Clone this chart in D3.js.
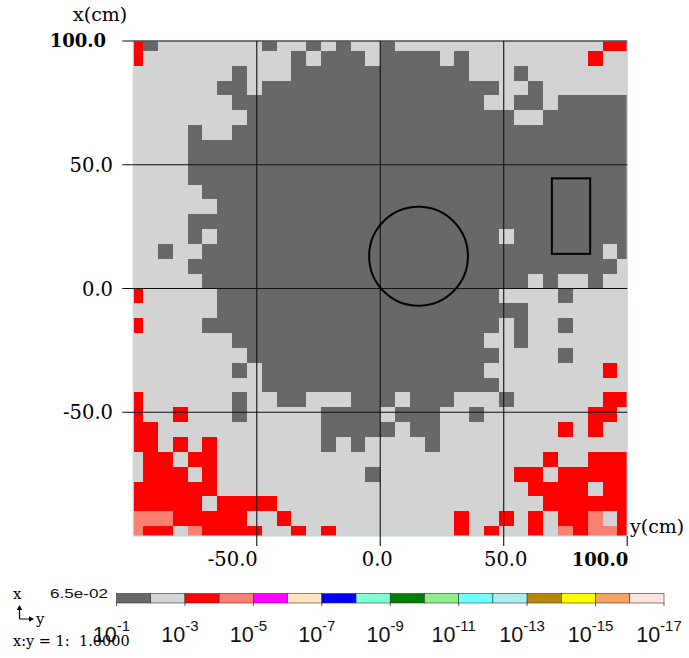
<!DOCTYPE html>
<html><head><meta charset="utf-8">
<script src="https://cdn.jsdelivr.net/npm/d3@7"></script>
<style>body{margin:0;background:#fff}svg{display:block}</style>
</head><body>
<script>
// ---------- data ----------
// cell edges (cm) along both axes
const cellEdges = [-102,-96,-90,-84,-78,-72,-66,-60,-54,-48,-42,-36,-30,-24,-18,-12,-6,0,6,12,18,24,30,36,42,48,54,60,66,72,78,84,90,96,102];
// mesh rows from top (x = 96..102) to bottom (x = -102..-96); each row = left half (y<0) + right half (y>0)
// D: ~3e-2, L: ~3e-3, R: ~3e-4, S: ~3e-5
const meshLeft = [
"RDLLLLLLLDLLDLDLL","RLLLLLLLLLLDLDDDL","LLLLLLLDLLLDDDDDD","LLLLLLDDLDDDDDDDD",
"LLLLLLLDDDDDDDDDD","LLLLLLLLDDDDDDDDD","LLLLDLLDDDDDDDDDD","LLLLDDDDDDDDDDDDD",
"LLLLDDDDDDDDDDDDD","LLLLDDDDDDDDDDDDD","LLLLLDDDDDDDDDDDD","LLLLLLDDDDDDDDDDD",
"LLLLDDDDDDDDDDDDD","LLLLDLDDDDDDDDDDD","LLDLLDDDDDDDDDDDD","LLLLDDDDDDDDDDDDD",
"LLLLLDDDDDDDDDDDD","RLLLLLDDDDDDDDDDD","LLLLLLDDDDDDDDDDD","RLLLLDDDDDDDDDDDD",
"LLLLLLLDDDDDDDDDD","LLLLLLLLDDDDDDDDD","LLLLLLLDLDDDDDDDD","LLLLLLLLLDDDDDDDD",
"RLLLLLLDLLDDLLLDD","RLLRLLLDLLLLLDDDD","RRLLLLLLLLLLLDDDD","RRLRLRLLLLLLLDLDL",
"LRRLRRLLLLLLLLLLL","LRRRLRLLLLLLLLLLD","RRRRRRLLLLLLLLLLL","RRRRRLRRRRLLLLLLL",
"SSSRRRRRLLRLLLLLL","SRRLSRRRRLLRLRLLL"
];
const meshRight = [
"DLLLLLLLLLLLLLLRR","DDDDLDLLLLLLLLRLL","DDDDDDLLLDLLLLLLL","DDDDDDDDLLDLLLLLL",
"DDDDDDDLLDDLDDDDD","DDDDDDDDDLLDDDDDD","DDDDDDDDDDDDDDDDD","DDDDDDDDDDDDDDDDD",
"DDDDDDDDDDDDDDDDD","DDDDDDDDDDDDDDDDD","DDDDDDDDDDDDDDDDD","DDDDDDDDDDDDDDDDD",
"DDDDDDDDDDDDDDDDD","DDDDDDDDLDDDDDDDD","DDDDDDDDDDDDDDDLD","DDDDDDDDDDDDDDDDL",
"DDDDDDDDDDLDLLDLL","DDDDDDDDLLLLDLLLL","DDDDDDDDDDLLLLLLL","DDDDDDDDLDLLDLLLL",
"DDDDDDDLLDLLLLLLL","DDDDDDDDLLLLDLLLL","DDDDDDDLLLLLLLLRL","DDDDDDDDLLLLLLLLL",
"DLDDDLLLDLLLLLLRR","LDDDLLDLLLLLLLRRL","DLDDLLLLLLLLRLRLL","LLLDLLLLLLLLLLLLL",
"LLLLLLLLLLLRLLRRR","LLLLLLLLLRRLRRRRR","LLLLLLLLLLRRRRLRR","LLLLLLLLLLLRRRRRR",
"LLLLLRLLRLRLRRSLR","LLLLLRLRLLRLSRSSR"
];
const levelValues = {D: 3e-2, L: 3e-3, R: 3e-4, S: 3e-5};
// colour bar decades and colours
const decades = [1e-1,1e-2,1e-3,1e-4,1e-5,1e-6,1e-7,1e-8,1e-9,1e-10,1e-11,1e-12,1e-13,1e-14,1e-15,1e-16,1e-17];
const barColors = ["#686868","#d3d3d3","#ff0000","#fa8072","#ff00ff","#ffe4c4","#0000ff","#7fffd4",
                   "#008000","#90ee90","#70ffff","#afeeee","#b8860b","#ffff00","#f4a460","#ffe4e1"];
const barLabelExp = ["-1","-3","-5","-7","-9","-11","-13","-15","-17"];
const axisTicks = [-50, 0, 50, 100];
const axisTickLabels = ["-50.0","0.0","50.0","100.0"];
const maxValueText = "6.5e-02";
// geometry overlays (cm): circle and rectangle
const circleShape = {y: 15.5, x: 13, r: 20};
const rectShape = {y0: 69.5, y1: 85, x0: 14, x1: 44.5};

// ---------- drawing ----------
const W = 689, H = 658;
const svg = d3.select("body").append("svg").attr("width", W).attr("height", H);
const sx = d3.scaleLinear().domain([-100, 100]).range([133.3, 627.2]);
const sy = d3.scaleLinear().domain([-100, 100]).range([536, 41]);
const color = d3.scaleThreshold()
  .domain(decades.slice(1, 16).slice().reverse())
  .range(barColors.slice().reverse());

svg.append("defs").append("clipPath").attr("id","pc").append("rect")
  .attr("x", sx(-100)).attr("y", sy(100)).attr("width", sx(100)-sx(-100)).attr("height", sy(-100)-sy(100));

const cells = [];
meshLeft.forEach((lh, r) => {
  const row = (lh + meshRight[r]);
  const xTop = cellEdges[cellEdges.length - 1 - r];
  const xBot = cellEdges[cellEdges.length - 2 - r];
  for (let c = 0; c < cellEdges.length - 1; c++) {
    const v = levelValues[row[c]];
    if (v === undefined) continue;
    cells.push({y0: cellEdges[c], y1: cellEdges[c+1], x0: xBot, x1: xTop, v: v});
  }
});
svg.append("g").attr("clip-path","url(#pc)").selectAll("rect").data(cells).join("rect")
  .attr("x", d => sx(d.y0)).attr("y", d => sy(d.x1))
  .attr("width", d => sx(d.y1) - sx(d.y0) + 0.3).attr("height", d => sy(d.x0) - sy(d.x1) + 0.3)
  .attr("fill", d => color(d.v)).attr("shape-rendering","crispEdges");

// frame
svg.append("rect").attr("x", sx(-100)).attr("y", sy(100)).attr("width", sx(100)-sx(-100)).attr("height", sy(-100)-sy(100))
  .attr("fill","none").attr("stroke","#b9dbe8").attr("stroke-width",1.2);

// grid lines with outward ticks
const g = svg.append("g").attr("stroke","#111").attr("stroke-width",1.1);
axisTicks.forEach(t => {
  g.append("line").attr("x1", sx(-100) - 11).attr("x2", sx(100)).attr("y1", sy(t)).attr("y2", sy(t));
  if (t === 100) g.append("line").attr("x1", sx(t)).attr("x2", sx(t)).attr("y1", sy(-100)).attr("y2", sy(-100) + 10);
  else g.append("line").attr("x1", sx(t)).attr("x2", sx(t)).attr("y1", sy(100)).attr("y2", sy(-100) + 10);
});

// geometry
svg.append("ellipse").attr("cx", sx(circleShape.y)).attr("cy", sy(circleShape.x))
  .attr("rx", sx(circleShape.r) - sx(0)).attr("ry", sy(0) - sy(circleShape.r))
  .attr("fill","none").attr("stroke","#000").attr("stroke-width",2);
svg.append("rect").attr("x", sx(rectShape.y0)).attr("y", sy(rectShape.x1))
  .attr("width", sx(rectShape.y1) - sx(rectShape.y0)).attr("height", sy(rectShape.x0) - sy(rectShape.x1))
  .attr("fill","none").attr("stroke","#000").attr("stroke-width",2);

// tick labels
const serif = "'DejaVu Serif',serif";
const sans = "'Liberation Sans',Arial,Helvetica,sans-serif";
const bottomShift = {"-50": -24, "0": -3, "50": 2, "100": 0};
axisTicks.forEach((t, i) => {
  const bold = t === 100;
  const fs = bold ? 18 : 19.5;
  svg.append("text").attr("x", bold ? 106 : 113).attr("y", sy(t)).attr("dy","0.36em")
    .attr("text-anchor","end").attr("font-family", serif).attr("font-size", fs)
    .attr("font-weight", bold ? "bold" : "normal").attr("fill","#000").text(axisTickLabels[i]);
  svg.append("text").attr("x", sx(t) + bottomShift[t] + (bold ? 1 : 0)).attr("y", 566)
    .attr("text-anchor", bold ? "end" : "middle").attr("font-family", serif).attr("font-size", fs)
    .attr("font-weight", bold ? "bold" : "normal").attr("fill","#000").text(axisTickLabels[i]);
});
svg.append("text").attr("x", 73).attr("y", 21).attr("font-family", serif).attr("font-size", 19).text("x(cm)");
svg.append("text").attr("x", 630).attr("y", 533).attr("font-family", serif).attr("font-size", 19).text("y(cm)");

// colour bar
const cb = d3.scaleLog().domain([1e-1, 1e-17]).range([116.5, 664]);
const cbY = 593.5, cbH = 9.5;
svg.append("g").selectAll("rect").data(barColors).join("rect")
  .attr("x", (d, i) => cb(decades[i])).attr("y", cbY)
  .attr("width", (d, i) => cb(decades[i+1]) - cb(decades[i])).attr("height", cbH)
  .attr("fill", d => d).attr("stroke","#333").attr("stroke-width",0.6);
barLabelExp.forEach(e => {
  const x = cb(Math.pow(10, +e));
  svg.append("line").attr("x1", x).attr("x2", x).attr("y1", cbY + cbH).attr("y2", cbY + cbH + 3)
    .attr("stroke","#333").attr("stroke-width",0.8);
  const t = svg.append("text").attr("x", x - 5).attr("y", 641.5).attr("text-anchor","middle")
    .attr("font-family", sans).attr("font-size", 21.5).attr("fill","#111");
  t.append("tspan").text("10");
  t.append("tspan").attr("dy", -11).attr("font-size", 15).text(e);
});
svg.append("text").attr("x", 50).attr("y", 598).attr("font-family", sans).attr("font-size", 13.5)
  .attr("textLength", 58).attr("lengthAdjust","spacingAndGlyphs").attr("fill","#111").text(maxValueText);
svg.append("text").attr("x", 13).attr("y", 599).attr("font-family", serif).attr("font-size", 15).text("x");
// axis arrow symbol
const ar = svg.append("g").attr("stroke","#000").attr("stroke-width",1.2).attr("fill","none");
ar.append("path").attr("d","M19.5,619 V608 M19.5,619 H31");
svg.append("path").attr("d","M19.5,605 L16.8,610 L22.2,610 Z").attr("fill","#000");
svg.append("path").attr("d","M34,619 L29,616.3 L29,621.7 Z").attr("fill","#000");
svg.append("text").attr("x", 36).attr("y", 624).attr("font-family", serif).attr("font-size", 15).text("y");
svg.append("text").attr("x", 13).attr("y", 646).attr("font-family", serif).attr("font-size", 14.5)
  .attr("xml:space","preserve").style("white-space","pre").text("x:y = 1:  1.0000");
</script>
</body></html>
